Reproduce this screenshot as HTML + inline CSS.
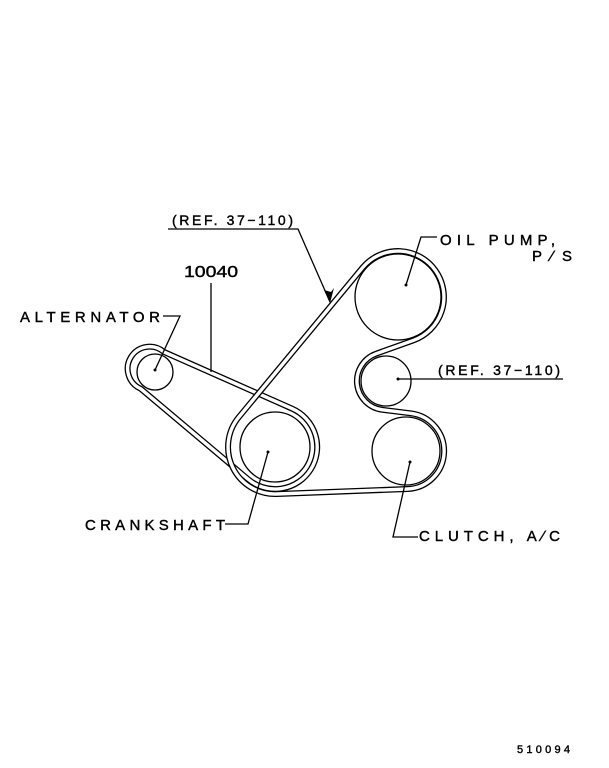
<!DOCTYPE html>
<html><head><style>
body{margin:0;background:#fff;}
svg{display:block;}
text{font-family:"Liberation Sans",sans-serif;fill:#000;}
</style></head><body>
<svg width="609" height="768" viewBox="0 0 609 768" xmlns="http://www.w3.org/2000/svg">
<g fill="none" stroke="#000" stroke-width="1.3">
<circle cx="398" cy="297" r="43"/>
<circle cx="386" cy="381" r="25"/>
<circle cx="406" cy="451" r="34"/>
<circle cx="275" cy="447" r="35"/>
<circle cx="155" cy="372" r="18"/>
</g>
<g fill="none" stroke-linejoin="round">
<path d="M163.9,351.9 L292,408.6 A42 42 0 1 1 248,479.1 L140.8,388.8 A22 22 0 1 1 163.9,351.9 Z" stroke="#000" stroke-width="6"/>
<path d="M163.9,351.9 L292,408.6 A42 42 0 1 1 248,479.1 L140.8,388.8 A22 22 0 1 1 163.9,351.9 Z" stroke="#fff" stroke-width="3.4"/>
<path d="M238.9,417 L362.6,267.6 A46 46 0 1 1 413.6,340.3 L376.2,353.7 A29 29 0 0 0 382.4,409.8 L410.7,413.3 A38 38 0 0 1 407.5,489 L276.8,494 A47 47 0 0 1 238.9,417 Z" stroke="#000" stroke-width="6"/>
<path d="M238.9,417 L362.6,267.6 A46 46 0 1 1 413.6,340.3 L376.2,353.7 A29 29 0 0 0 382.4,409.8 L410.7,413.3 A38 38 0 0 1 407.5,489 L276.8,494 A47 47 0 0 1 238.9,417 Z" stroke="#fff" stroke-width="3.4"/>
</g>
<g fill="none" stroke="#000" stroke-width="1.3">
<polyline points="168,229 298,229 330,302"/>
<line x1="211" y1="283" x2="211" y2="372"/>
<polyline points="163,316 180,316 155,370"/>
<polyline points="437,237 421,237 406,285"/>
<line x1="398" y1="379" x2="563" y2="379"/>
<polyline points="225,524 248,524 268,452"/>
<polyline points="418,537 393,537 410,462"/>
</g>
<polygon points="330,303 324,290 331,292 334,288" fill="#000"/>
<g fill="#000">
<circle cx="155" cy="370" r="1.5"/><circle cx="406" cy="285" r="1.5"/><circle cx="398" cy="379" r="1.5"/>
<circle cx="268" cy="452" r="1.5"/><circle cx="410" cy="462" r="1.5"/>
</g>
<g stroke="#000" stroke-width="0.4">
<text x="172" y="225" font-size="14" textLength="121" lengthAdjust="spacing">(REF. 37−110)</text>
<text x="184" y="277" font-size="16" textLength="54" lengthAdjust="spacingAndGlyphs">10040</text>
<text x="20" y="322" font-size="15" textLength="140" lengthAdjust="spacing">ALTERNATOR</text>
<text x="440" y="245" font-size="15" textLength="115" lengthAdjust="spacing">OIL  PUMP,</text>
<text x="532" y="261" font-size="15" textLength="40" lengthAdjust="spacing">P∕S</text>
<text x="438" y="375" font-size="14" textLength="122" lengthAdjust="spacing">(REF. 37−110)</text>
<text x="85" y="530" font-size="15" textLength="140" lengthAdjust="spacing">CRANKSHAFT</text>
<text x="419" y="541" font-size="15" textLength="141" lengthAdjust="spacing">CLUTCH, A∕C</text>
<text x="517" y="753" font-size="11" textLength="53" lengthAdjust="spacing">510094</text>
</g>
</svg>
</body></html>
